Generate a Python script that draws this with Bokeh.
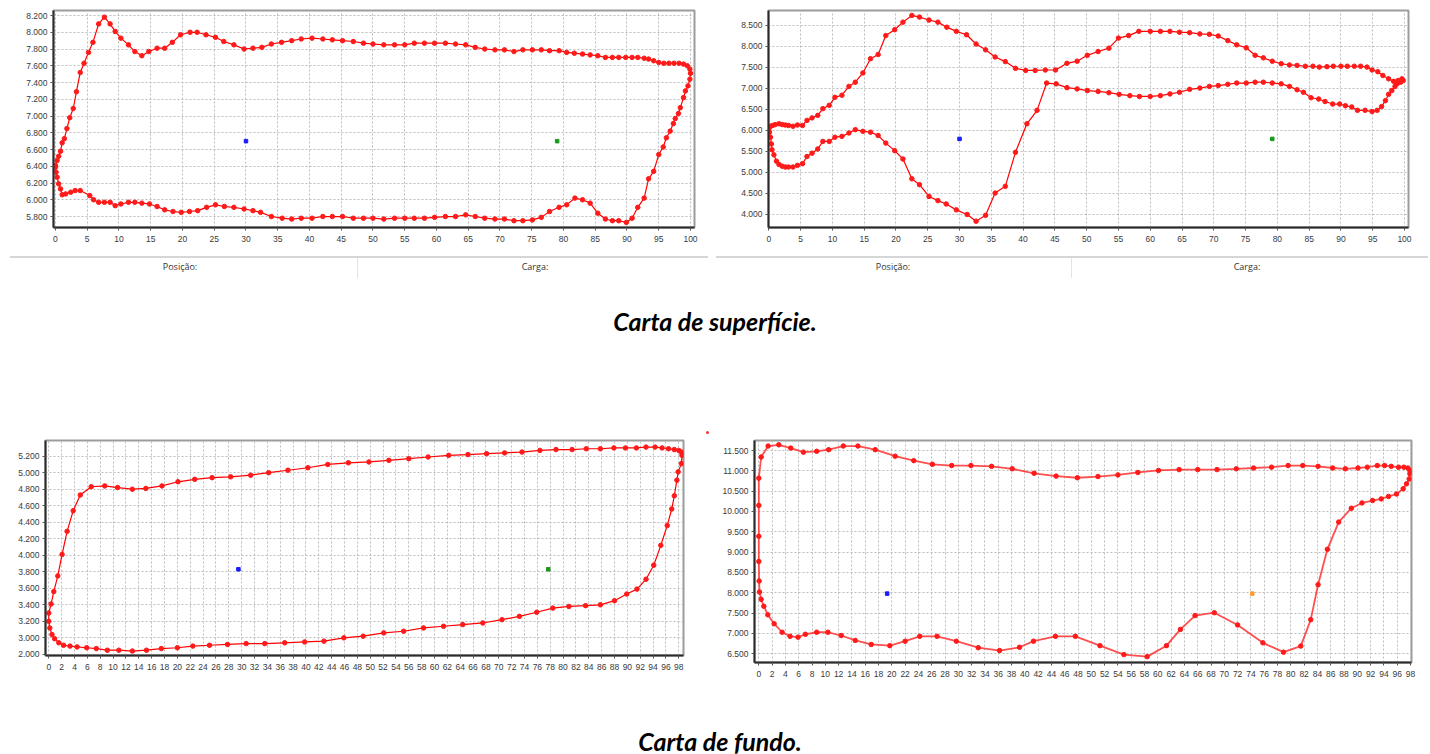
from bokeh.plotting import figure
from bokeh.layouts import column, row
from bokeh.models import Range1d, FixedTicker, Div
from bokeh.embed import file_html
from bokeh.resources import INLINE

# ---------------- data ----------------
# Carta de superfície (1)
sup1_pos = [0, 0.26, 0.5, 0.8, 1.05, 1.4, 1.8, 2.25, 2.8, 3.3, 3.9, 4.5, 5.2, 5.9, 6.8, 7.7, 8.6, 9.4,
            10.3, 11.5, 12.5, 13.6, 14.7, 16.0, 17.2, 18.4, 19.7, 21.2, 22.3, 23.7, 25.2, 26.5, 28.1,
            29.7, 31.1, 32.5, 34.0, 35.6, 37.2, 38.7, 40.4, 42.1, 43.6, 45.2, 46.9, 48.5, 50.0, 51.7,
            53.4, 55.0, 56.5, 58.1, 59.7, 61.4, 63.0, 64.6, 66.1, 67.6, 69.2, 70.7, 72.2, 73.6, 75.1,
            76.5, 77.8, 79.3, 80.5, 81.7, 83.0, 84.2, 85.4, 86.6, 87.7, 88.7, 89.8, 90.8, 91.7, 92.7,
            93.4, 94.2, 95.0, 95.8, 96.6, 97.4, 98.2, 98.9, 99.5, 99.9, 100.0,
            99.9, 99.6, 99.2, 98.9, 98.4, 98.1, 97.6, 97.3, 96.8, 96.2, 95.7, 95.0, 94.2, 93.4, 92.7,
            91.7, 90.8, 89.9, 88.7, 87.7, 86.6, 85.4, 84.2, 83.0, 81.8, 80.5, 79.3, 77.8, 76.5, 75.1,
            73.6, 72.2, 70.7, 69.2, 67.6, 66.1, 64.6, 63.0, 61.4, 59.7, 58.1, 56.5, 55.0, 53.4, 51.7,
            50.0, 48.5, 46.9, 45.2, 43.6, 42.1, 40.4, 38.7, 37.2, 35.7, 34.0, 32.3, 31.1, 29.7, 28.1,
            26.6, 25.2, 23.8, 22.4, 21.1, 19.8, 18.5, 17.2, 16.0, 14.8, 13.6, 12.5, 11.5, 10.3, 9.4,
            8.6, 7.7, 6.8, 6.0, 5.4, 3.9, 3.1, 2.4, 1.6, 1.05, 0.8, 0.5, 0.26, 0.1, 0]
sup1_load = [6410, 6470, 6520, 6580, 6680, 6730, 6850, 6980, 7090, 7290, 7520, 7630, 7760, 7880, 8100,
             8180, 8100, 8010, 7930, 7850, 7770, 7720, 7770, 7810, 7810, 7880, 7970, 8000, 8000, 7970,
             7940, 7890, 7850, 7800, 7810, 7820, 7860, 7880, 7900, 7920, 7930, 7920, 7910, 7900, 7890,
             7870, 7860, 7850, 7850, 7850, 7870, 7870, 7870, 7870, 7860, 7850, 7820, 7800, 7790, 7790,
             7770, 7790, 7790, 7790, 7780, 7780, 7760, 7750, 7740, 7730, 7720, 7700, 7700, 7700, 7700,
             7700, 7700, 7690, 7680, 7660, 7640, 7630, 7630, 7630, 7630, 7620, 7600, 7560, 7510,
             7440, 7360, 7300, 7220, 7100, 7030, 6970, 6910, 6820, 6740, 6630, 6540, 6340, 6250, 6020,
             5910, 5780, 5730, 5750, 5750, 5770, 5840, 5960, 6000, 6020, 5940, 5910, 5860, 5790, 5760,
             5750, 5750, 5770, 5770, 5780, 5800, 5820, 5800, 5800, 5790, 5780, 5780, 5780, 5780, 5770,
             5780, 5780, 5780, 5800, 5800, 5800, 5780, 5780, 5770, 5780, 5800, 5850, 5870, 5890, 5910,
             5920, 5940, 5910, 5870, 5860, 5850, 5860, 5880, 5920, 5950, 5960, 5970, 5970, 5950, 5930,
             5970, 5970, 5970, 6000, 6050, 6110, 6110, 6090, 6070, 6060, 6130, 6190, 6270, 6330, 6390]

# Carta de superfície (2)
sup2_pos = [0, 0.26, 0.6, 1.0, 1.6, 2.1, 2.6, 3.1, 3.8, 4.5, 5.3, 6.0, 6.8, 7.7, 8.5, 9.5, 10.4, 11.5,
            12.6, 13.6, 14.8, 16.0, 17.2, 18.4, 19.8, 21.1, 22.5, 23.7, 25.2, 26.6, 28.0, 29.5, 31.1,
            32.6, 34.1, 35.6, 37.2, 38.8, 40.4, 41.9, 43.5, 45.1, 46.9, 48.5, 50.1, 51.8, 53.5, 55.0,
            56.6, 58.2, 60.0, 61.6, 63.1, 64.6, 66.2, 67.8, 69.3, 70.7, 72.2, 73.6, 75.1, 76.5, 77.8,
            79.2, 80.6, 81.9, 83.1, 84.4, 85.6, 86.6, 87.8, 88.8, 90.0, 91.0, 92.1, 93.1, 94.1, 94.9,
            95.8, 96.6, 97.5, 98.3, 98.9, 99.4, 99.8, 99.6, 99.0, 98.8, 98.5, 98.0, 97.5, 97.0, 96.4,
            95.7, 94.9, 93.8, 92.6, 91.7, 90.7, 89.8, 88.7, 87.5, 86.5, 85.3, 84.1, 83.1, 81.9, 80.6,
            79.2, 77.8, 76.5, 75.1, 73.6, 72.2, 70.7, 69.3, 67.8, 66.2, 64.6, 63.1, 61.6, 60.0, 58.3,
            56.8, 55.1, 53.5, 51.8, 50.1, 48.5, 46.9, 45.2, 43.7, 42.2, 40.6, 38.8, 37.2, 35.6, 34.1,
            32.6, 31.2, 29.5, 27.9, 26.6, 25.2, 23.7, 22.5, 21.1, 19.8, 18.4, 17.2, 16.0, 14.8, 13.6,
            12.6, 11.5, 10.4, 9.5, 8.5, 7.7, 6.8, 6.0, 5.3, 4.5, 3.8, 3.1, 2.6, 2.1, 1.6, 1.2, 0.8,
            0.5, 0.4, 0.26, 0.1, 0]
sup2_load = [6080, 6100, 6120, 6140, 6160, 6140, 6130, 6120, 6100, 6130, 6120, 6240, 6300, 6360, 6520,
             6600, 6790, 6840, 7050, 7150, 7370, 7710, 7810, 8260, 8400, 8580, 8740, 8700, 8630, 8580,
             8460, 8360, 8280, 8060, 7920, 7750, 7640, 7480, 7430, 7430, 7440, 7440, 7600, 7650, 7790,
             7880, 7960, 8200, 8260, 8360, 8360, 8360, 8360, 8340, 8330, 8300, 8290, 8250, 8140, 8040,
             7970, 7790, 7730, 7650, 7590, 7560, 7550, 7530, 7530, 7510, 7520, 7530, 7530, 7530, 7530,
             7530, 7510, 7440, 7400, 7310, 7230, 7170, 7130, 7150, 7190, 7230, 7190, 7110, 7050, 6950,
             6860, 6710, 6570, 6480, 6450, 6480, 6480, 6560, 6590, 6630, 6630, 6690, 6750, 6780, 6910,
             6970, 7050, 7110, 7130, 7150, 7150, 7130, 7130, 7100, 7070, 7050, 7010, 6980, 6910, 6870,
             6830, 6810, 6810, 6830, 6860, 6900, 6930, 6950, 6990, 7020, 7110, 7130, 6480, 6160, 5480,
             4670, 4510, 3980, 3840, 4000, 4110, 4250, 4330, 4430, 4710, 4850, 5320, 5520, 5700, 5880,
             5960, 5980, 6020, 5940, 5860, 5840, 5740, 5740, 5560, 5460, 5380, 5210, 5170, 5130, 5130,
             5130, 5150, 5190, 5270, 5420, 5540, 5680, 5840, 5960, 6040]

# Carta de fundo (1)
fun1_pos = [0, 0, 0.36, 0.78, 1.4, 2.07, 2.85, 3.8, 4.9, 6.6, 8.7, 10.7, 13.0, 15.1, 17.6, 20.1, 22.7,
            25.4, 28.3, 31.4, 34.2, 37.2, 40.3, 43.4, 46.6, 49.8, 52.9, 56.0, 59.0, 62.2, 65.2, 68.1,
            70.9, 73.6, 76.4, 78.9, 81.4, 83.6, 85.8, 87.9, 89.7, 91.4, 92.9, 94.3, 95.4, 96.4, 97.3,
            98.0, 98.4, 98.5, 98.4, 97.9, 97.7, 97.3, 96.9, 96.2, 95.2, 94.1, 92.9, 91.5, 89.9, 88.0,
            85.8, 83.5, 80.9, 78.4, 75.9, 73.2, 70.5, 67.5, 64.4, 61.4, 58.3, 55.2, 52.1, 48.9, 45.9,
            42.8, 39.8, 36.7, 33.6, 30.7, 27.8, 25.0, 22.4, 20.0, 17.5, 15.2, 13.0, 10.9, 9.1, 7.4,
            5.9, 4.4, 3.3, 2.3, 1.56, 0.9, 0.5, 0.16]
fun1_load = [3200, 3300, 3410, 3560, 3750, 4010, 4290, 4540, 4730, 4830, 4840, 4820, 4800, 4810, 4840,
             4890, 4920, 4940, 4950, 4970, 5000, 5030, 5060, 5100, 5120, 5130, 5150, 5170, 5190, 5210,
             5220, 5230, 5240, 5250, 5270, 5280, 5280, 5290, 5290, 5300, 5300, 5300, 5310, 5310, 5300,
             5290, 5280, 5270, 5250, 5210, 5110, 5010, 4910, 4720, 4560, 4360, 4120, 3880, 3710, 3590,
             3530, 3450, 3400, 3390, 3380, 3360, 3310, 3260, 3220, 3180, 3160, 3140, 3120, 3080, 3060,
             3020, 3000, 2960, 2950, 2940, 2930, 2930, 2920, 2910, 2900, 2880, 2870, 2850, 2840, 2850,
             2850, 2870, 2880, 2890, 2900, 2910, 2940, 2990, 3040, 3120]

# Carta de fundo (2)
fun2_pos = [0, 0, 0.35, 1.4, 3.0, 4.8, 6.7, 8.7, 10.5, 12.7, 14.9, 17.5, 20.5, 23.3, 26.1, 29.0, 31.9,
            35.0, 38.1, 41.4, 44.7, 47.9, 51.0, 54.0, 57.0, 60.1, 63.2, 66.0, 68.9, 71.8, 74.4, 77.1,
            79.6, 81.8, 84.1, 86.3, 88.2, 90.1, 91.5, 93.0, 94.1, 95.1, 96.2, 97.0, 97.6, 97.9, 97.9,
            97.8, 97.4, 96.9, 95.9, 94.7, 93.6, 92.3, 90.7, 89.1, 87.2, 85.5, 84.1, 83.0, 81.5, 78.9,
            75.8, 72.0, 68.5, 65.6, 63.4, 61.3, 58.4, 54.9, 51.3, 47.6, 44.6, 41.3, 39.2, 36.2, 33.0,
            29.7, 26.8, 24.2, 22.0, 19.7, 16.9, 14.5, 12.4, 10.4, 8.7, 7.0, 5.9, 4.7, 3.5, 2.3, 1.35,
            0.75, 0.35, 0.1, 0.05, 0, 0]
fun2_load = [10150, 10820, 11340, 11610, 11640, 11560, 11460, 11480, 11520, 11610, 11610, 11520, 11360,
             11250, 11160, 11130, 11130, 11110, 11050, 10940, 10870, 10830, 10860, 10900, 10960, 11010,
             11030, 11030, 11030, 11050, 11070, 11090, 11130, 11130, 11110, 11070, 11050, 11070, 11090,
             11130, 11130, 11110, 11090, 11090, 11070, 11010, 10930, 10800, 10680, 10560, 10430, 10370,
             10310, 10270, 10210, 10080, 9740, 9070, 8200, 7340, 6690, 6540, 6770, 7210, 7510, 7440,
             7100, 6700, 6430, 6480, 6700, 6930, 6930, 6810, 6660, 6580, 6650, 6810, 6930, 6930, 6810,
             6700, 6730, 6830, 6950, 7030, 7030, 6980, 6910, 6930, 7030, 7240, 7460, 7670, 7840, 8020,
             8290, 8770, 9390]

# reference markers (posição, carga, cor) for each card
sup1_marks = [(30, 6700, "#1a1aff"), (79, 6700, "#1a9a1a")]
sup2_marks = [(30, 5800, "#1a1aff"), (79.2, 5800, "#1a9a1a")]
fun1_marks = [(29.5, 3830, "#1a1aff"), (77.7, 3830, "#1a9a1a")]
fun2_marks = [(19.3, 7980, "#1a1aff"), (74.2, 7980, "#ff9a33")]

# tick values
sup_x_ticks = list(range(0, 101, 5))
sup1_y_ticks = list(range(5800, 8201, 200))
sup2_y_ticks = list(range(4000, 8501, 500))
fun_x_ticks = list(range(0, 99, 2))
fun1_y_ticks = list(range(2800, 5201, 200))
fun2_y_ticks = list(range(6500, 11501, 500))
fun1_y_label_fix = {2800: "2.000"}

# ---------------- helpers ----------------
def br_num(v):
    return f"{v:,}".replace(",", ".")


def card(w, h, xr, yr, borders, xt, yt, pos, load, marks, yfix=None, lw=1.2, lc="red", la=1.0):
    bl, br_, bt, bb = borders
    p = figure(width=w, height=h, x_range=Range1d(*xr), y_range=Range1d(*yr),
               output_backend="svg", toolbar_location=None,
               min_border_left=bl, min_border_right=br_, min_border_top=bt, min_border_bottom=bb)
    p.background_fill_color = "white"
    p.border_fill_color = "white"
    p.outline_line_color = "#9c9c9c"
    p.outline_line_width = 2
    p.xaxis.ticker = FixedTicker(ticks=xt, minor_ticks=[])
    p.yaxis.ticker = FixedTicker(ticks=yt, minor_ticks=[])
    p.xaxis.major_label_overrides = {v: str(v) for v in xt}
    ylabels = {v: br_num(v) for v in yt}
    if yfix:
        ylabels.update(yfix)
    p.yaxis.major_label_overrides = ylabels
    for ax in (p.xaxis, p.yaxis):
        ax.axis_line_width = 2
        ax.axis_line_color = "#2a2a2a"
        ax.major_tick_line_color = "#555555"
        ax.major_tick_out = 3
        ax.major_tick_in = 0
        ax.minor_tick_out = 0
        ax.minor_tick_in = 0
        ax.major_label_standoff = 3
        ax.major_label_text_font = "Liberation Sans"
        ax.major_label_text_font_size = "8.5px"
        ax.major_label_text_color = "#3a3a3a"
    p.xaxis.major_label_standoff = 5
    for g in (p.xgrid, p.ygrid):
        g.grid_line_color = "#bdbdbd"
        g.grid_line_dash = "2 2"
        g.grid_line_width = 1
    xs = list(pos) + [pos[0]]
    ys = list(load) + [load[0]]
    p.line(xs, ys, line_color=lc, line_width=lw, line_alpha=la)
    p.scatter(pos, load, marker="circle", size=4.5, fill_color="#ff1a1a", line_color="#ff1a1a")
    for mx, my, mc in marks:
        p.scatter([mx], [my], marker="square", size=3.5, fill_color=mc, line_color=mc)
    return p


p_sup1 = card(711, 250, (-0.31, 100.63), (5669, 8260), (53, 17, 10, 23),
              sup_x_ticks, sup1_y_ticks, sup1_pos, sup1_load, sup1_marks)
p_sup2 = card(717, 250, (-0.05, 100.63), (3690, 8857), (57, 20, 10, 23),
              sup_x_ticks, sup2_y_ticks, sup2_pos, sup2_load, sup2_marks)
p_fun1 = card(705, 257, (-0.51, 98.73), (2786, 5390), (45, 22, 20, 22),
              fun_x_ticks, fun1_y_ticks, fun1_pos, fun1_load, fun1_marks, yfix=fun1_y_label_fix)
p_fun2 = card(723, 264, (-0.65, 98.15), (6286, 11746), (49, 17, 20, 22),
              fun_x_ticks, fun2_y_ticks, fun2_pos, fun2_load, fun2_marks, lw=1.8, lc="#ff3030", la=0.85)

lab = "position:absolute;font-family:'Open Sans',sans-serif;font-size:9px;line-height:12px;color:#333;white-space:nowrap;transform:translateX(-50%);"
cap = "position:absolute;font-family:Lato,sans-serif;font-weight:bold;font-style:italic;font-size:25px;line-height:30px;color:#000;white-space:nowrap;transform:translateX(-50%);"

mid_html = f"""
<div style="position:relative;width:1428px;height:170px;overflow:visible;">
 <div style="position:absolute;left:10px;top:6px;width:698px;height:0;border-top:2px solid #d6d6d6;"></div>
 <div style="position:absolute;left:716px;top:6px;width:712px;height:0;border-top:2px solid #d6d6d6;"></div>
 <div style="position:absolute;left:357px;top:8px;width:0;height:20px;border-left:1px solid #e4e4e4;"></div>
 <div style="position:absolute;left:1071px;top:8px;width:0;height:20px;border-left:1px solid #e4e4e4;"></div>
 <span style="{lab}left:180px;top:11px;">Posição:</span>
 <span style="{lab}left:535px;top:11px;">Carga:</span>
 <span style="{lab}left:893px;top:11px;">Posição:</span>
 <span style="{lab}left:1247px;top:11px;">Carga:</span>
 <span style="{cap}left:715px;top:56px;">Carta de superfície.</span>
 <span style="position:absolute;left:706px;top:181px;width:3px;height:3px;border-radius:50%;background:#ff3030;z-index:50;"></span>
</div>
"""
bot_html = f"""
<div style="position:relative;width:1428px;height:66px;overflow:visible;">
 <span style="{cap}left:720px;top:42px;">Carta de fundo.</span>
</div>
"""

mid = Div(text=mid_html, width=1428, height=170, margin=0, styles={"overflow": "visible", "z-index": "10"})
bot = Div(text=bot_html, width=1428, height=66, margin=0, styles={"overflow": "visible"})

layout = column(row(p_sup1, p_sup2, spacing=0), mid, row(p_fun1, p_fun2, spacing=0), bot, spacing=0)

open("out.html", "w").write(file_html(layout, INLINE))
